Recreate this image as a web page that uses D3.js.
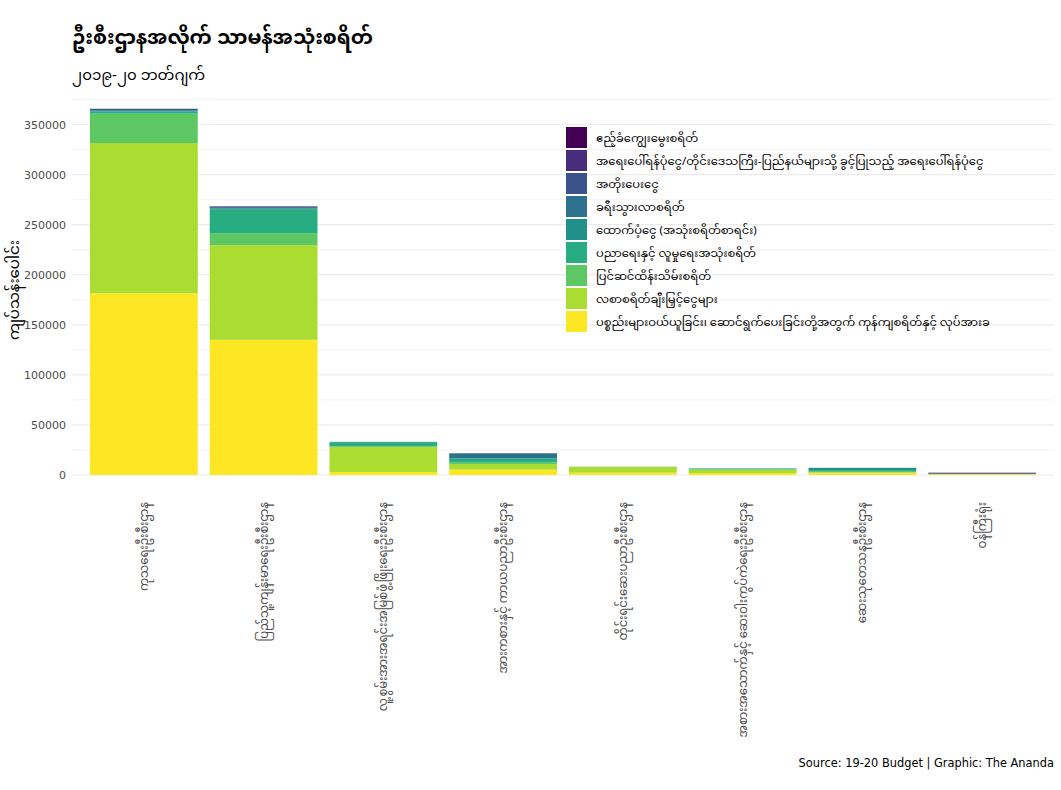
<!DOCTYPE html>
<html>
<head>
<meta charset="utf-8">
<script src="https://cdn.jsdelivr.net/npm/d3@7"></script>
<style>
  body { margin: 0; background: #fff; }
  svg text { font-family: "Noto Sans Myanmar", "Padauk", "Myanmar Text", "Noto Sans", "DejaVu Sans", sans-serif; }
</style>
</head>
<body>
<div id="chart"></div>
<script>
var departments = [
  "ကုသရေးဦးစီးဌာန",
  "ပြည်သူ့ကျန်းမာရေးဦးစီးဌာန",
  "လူ့စွမ်းအားအရင်းအမြစ်ဖွံ့ဖြိုးရေးဦးစီးဌာန",
  "အားကစားနှင့် ကာယပညာဦးစီးဌာန",
  "တိုင်းရင်းဆေးပညာဦးစီးဌာန",
  "အစားအသောက်နှင့် ဆေးဝါးကွပ်ကဲရေးဦးစီးဌာန",
  "ဆေးသုတေသနဦးစီးဌာန",
  "ဝန်ကြီးရုံး"
];

// legend order (top of stack first)
var categories = [
  "ဧည့်ခံကျွေးမွေးစရိတ်",
  "အရေးပေါ်ရန်ပုံငွေ/တိုင်းဒေသကြီး-ပြည်နယ်များသို့ ခွင့်ပြုသည့် အရေးပေါ်ရန်ပုံငွေ",
  "အတိုးပေးငွေ",
  "ခရီးသွားလာစရိတ်",
  "ထောက်ပံ့ငွေ (အသုံးစရိတ်စာရင်း)",
  "ပညာရေးနှင့် လူမှုရေးအသုံးစရိတ်",
  "ပြင်ဆင်ထိန်းသိမ်းစရိတ်",
  "လစာစရိတ်ချီးမြှင့်ငွေများ",
  "ပစ္စည်းများဝယ်ယူခြင်း၊ ဆောင်ရွက်ပေးခြင်းတို့အတွက် ကုန်ကျစရိတ်နှင့် လုပ်အားခ"
];

var colors = ["#440154","#472D7B","#3B528B","#2C728E","#21908C","#27AD81","#5DC863","#AADC32","#FDE725"];

// kyat millions, one array per category, in department order
var entertainment = [0, 0, 0, 0, 0, 0, 0, 100];
var emergency     = [0, 0, 0, 0, 0, 0, 0, 900];
var interest      = [1200, 1500, 0, 0, 0, 0, 0, 0];
var travel        = [800, 800, 300, 5000, 0, 0, 0, 0];
var subsidy       = [500, 500, 0, 0, 0, 0, 3000, 0];
var education     = [2400, 24000, 4200, 4300, 0, 1000, 0, 0];
var maintenance   = [29300, 12000, 600, 1400, 300, 300, 1600, 100];
var salary        = [150000, 94500, 25000, 5700, 5700, 3300, 300, 600];
var goods         = [181500, 135000, 3000, 5300, 2300, 2000, 2300, 600];

var series = [entertainment, emergency, interest, travel, subsidy, education, maintenance, salary, goods];

var yTicks = [0, 50000, 100000, 150000, 200000, 250000, 300000, 350000];
var yMinor = [25000, 75000, 125000, 175000, 225000, 275000, 325000, 375000];

var W = 1061, H = 790;
var margin = {top: 90, right: 7, bottom: 297, left: 72};
var width = W - margin.left - margin.right;

var svg = d3.select("#chart").append("svg")
    .attr("width", W)
    .attr("height", H);

var rows = departments.map(function(d, i) {
  var r = {dept: d};
  categories.forEach(function(c, j) { r[c] = series[j][i]; });
  return r;
});

var stack = d3.stack().keys(categories.slice().reverse());
var layers = stack(rows);

var x = d3.scaleBand()
    .domain(departments)
    .range([margin.left, margin.left + width])
    .paddingInner(0.1)
    .paddingOuter(0.15);

var y = d3.scaleLinear()
    .domain([0, 350000])
    .range([475, 124.5]);

var color = d3.scaleOrdinal().domain(categories).range(colors);

// grid
svg.append("g").selectAll("line.minor")
  .data(yMinor).enter().append("line")
    .attr("x1", margin.left).attr("x2", margin.left + width)
    .attr("y1", function(d) { return y(d); })
    .attr("y2", function(d) { return y(d); })
    .attr("stroke", "#ebebeb").attr("stroke-width", 0.6);

svg.append("g").selectAll("line.major")
  .data(yTicks).enter().append("line")
    .attr("x1", margin.left).attr("x2", margin.left + width)
    .attr("y1", function(d) { return y(d); })
    .attr("y2", function(d) { return y(d); })
    .attr("stroke", "#ebebeb").attr("stroke-width", 1.2);

// bars
svg.append("g").selectAll("g")
  .data(layers).enter().append("g")
    .attr("fill", function(d) { return color(d.key); })
  .selectAll("rect")
  .data(function(d) { return d; }).enter().append("rect")
    .attr("x", function(d) { return x(d.data.dept); })
    .attr("width", x.bandwidth())
    .attr("y", function(d) { return y(d[1]); })
    .attr("height", function(d) { return y(d[0]) - y(d[1]); });

// y axis
var yAxis = d3.axisLeft(y).tickValues(yTicks).tickSize(0).tickPadding(6).tickFormat(d3.format("d"));
var ya = svg.append("g")
    .attr("transform", "translate(" + margin.left + ",0)")
    .call(yAxis);
ya.select(".domain").remove();
ya.selectAll("text").attr("fill", "#4d4d4d").style("font-size", "11px").style("font-family", "'DejaVu Sans', sans-serif");

// x axis
var xAxis = d3.axisBottom(x).tickSize(0).tickPadding(0);
var xa = svg.append("g")
    .attr("transform", "translate(0,502)")
    .call(xAxis);
xa.select(".domain").remove();
xa.selectAll("text")
    .attr("fill", "#4d4d4d")
    .style("font-size", "11.7px")
    .attr("text-anchor", "end")
    .attr("dy", "0.35em")
    .attr("y", 0)
    .attr("transform", "rotate(-90)");

// y title
svg.append("text")
    .attr("transform", "translate(19,290) rotate(-90)")
    .attr("text-anchor", "middle")
    .style("font-size", "15px")
    .attr("fill", "#000")
    .text("ကျပ်သန်းပေါင်း");

// title
svg.append("text")
    .attr("x", 72).attr("y", 44)
    .style("font-size", "20px")
    .style("font-weight", "bold")
    .text("ဦးစီးဌာနအလိုက် သာမန်အသုံးစရိတ်");

svg.append("text")
    .attr("x", 72).attr("y", 80)
    .style("font-size", "15px")
    .text("၂၀၁၉-၂၀ ဘတ်ဂျက်");

// legend
var legend = svg.append("g").attr("transform", "translate(566,127)");
var li = legend.selectAll("g").data(categories).enter().append("g")
    .attr("transform", function(d, i) { return "translate(0," + (i * 23) + ")"; });
li.append("rect")
    .attr("width", 21).attr("height", 21)
    .attr("fill", function(d) { return color(d); });
li.append("text")
    .attr("x", 30).attr("y", 11)
    .attr("dy", "0.35em")
    .style("font-size", "11.5px")
    .text(function(d) { return d; });

// caption
svg.append("text")
    .attr("x", 1054).attr("y", 767)
    .attr("text-anchor", "end")
    .style("font-size", "11.4px")
    .style("font-family", "'DejaVu Sans', sans-serif")
    .text("Source: 19-20 Budget | Graphic: The Ananda");
</script>
</body>
</html>
